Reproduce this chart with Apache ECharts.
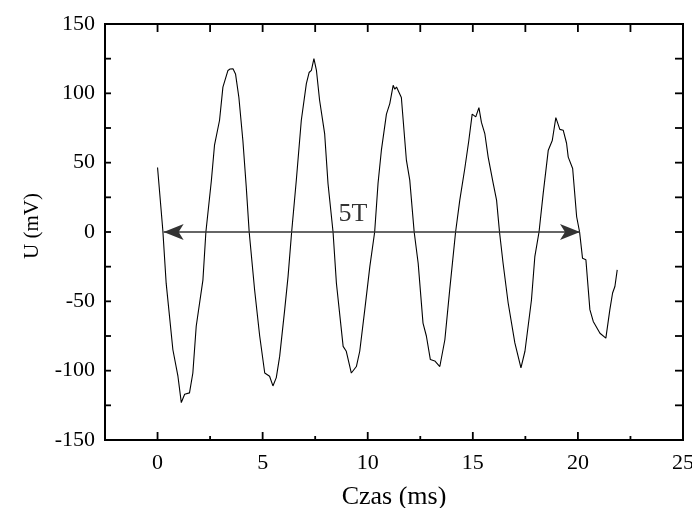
<!DOCTYPE html>
<html>
<head>
<meta charset="utf-8">
<script src="https://cdn.jsdelivr.net/npm/echarts@6/dist/echarts.min.js"></script>
<style>html,body{margin:0;padding:0;background:#fff}#c{width:692px;height:508px}</style>
</head>
<body>
<div id="c"></div>
<script>
// time (ms)
const timeMs = [0.0,0.25,0.41,0.73,0.97,1.13,1.29,1.52,1.68,1.84,2.16,2.3,2.56,2.71,2.95,3.11,3.35,3.45,3.59,3.71,3.87,4.06,4.22,4.36,4.62,4.86,5.1,5.33,5.49,5.65,5.81,6.05,6.21,6.38,6.6,6.84,7.08,7.21,7.32,7.44,7.56,7.71,7.95,8.11,8.35,8.51,8.83,8.98,9.22,9.46,9.62,9.86,10.1,10.33,10.49,10.65,10.89,11.05,11.21,11.29,11.37,11.6,11.84,12.0,12.21,12.4,12.63,12.79,12.98,13.19,13.43,13.67,13.9,14.18,14.38,14.62,14.81,14.97,15.14,15.29,15.41,15.57,15.73,15.97,16.13,16.27,16.44,16.68,17.0,17.29,17.48,17.79,17.95,18.15,18.35,18.59,18.78,18.95,19.14,19.3,19.46,19.54,19.75,19.94,20.08,20.22,20.38,20.57,20.73,21.05,21.33,21.52,21.65,21.76,21.87];
// voltage (mV)
const voltageMv = [46.5,1.4,-36.9,-84.9,-104,-123,-117,-116,-101.7,-68,-34.5,0,37,62.6,80.6,104.5,116.5,117.5,117.7,114,97,66,32.6,0,-42,-75,-101.7,-104,-111,-105,-89.7,-56,-32,0,37,80.6,107,115,116.5,125,116.5,95,71,35,0,-37,-82.5,-86,-101.7,-97,-86,-56,-25,0,35,59,85,92.6,105.8,103,104.5,97,51.8,37.4,0,-22.5,-65.7,-75,-92,-93,-97,-77.7,-41.7,0,23,46,66,85,83,89.7,79,71,54,35,23,0,-22.5,-51,-80,-98,-86,-49,-17.8,0,28,59,66,82.5,74,73.4,64,54,45.8,11,0,-19,-20,-56,-64.5,-73,-76.5,-56,-44,-39.3,-27.3];
// annotation
const arrowStart = 0.29, arrowEnd = 20.1, arrowLevel = 0;
const annotText = '5T', annotX = 9.3, annotY = 13;
// axes
const xMin = -2.5, xMax = 25;
const xMajorTicks = [0,5,10,15,20,25];
const xMinorTicks = [2.5,7.5,12.5,17.5,22.5];
const yMin = -150, yMax = 150;
const yTicks = [-125,-100,-75,-50,-25,0,25,50,75,100,125];

const FONT = 'Liberation Serif';
const chart = echarts.init(document.getElementById('c'));

function xTickRenderer(lenBottom, lenTop){
  return function(params, api){
    const b = api.coord([api.value(0), yMin]);
    const t = api.coord([api.value(0), yMax]);
    const st = {stroke:'#000', lineWidth:1.8};
    return {type:'group', children:[
      {type:'line', shape:{x1:b[0], y1:b[1], x2:b[0], y2:b[1]-lenBottom}, style:st},
      {type:'line', shape:{x1:t[0], y1:t[1], x2:t[0], y2:t[1]+lenTop}, style:st}
    ]};
  };
}
function yTickRenderer(lenLeft, lenRight){
  return function(params, api){
    const l = api.coord([xMin, api.value(1)]);
    const r = api.coord([xMax, api.value(1)]);
    const st = {stroke:'#000', lineWidth:1.8};
    return {type:'group', children:[
      {type:'line', shape:{x1:l[0], y1:l[1], x2:l[0]+lenLeft, y2:l[1]}, style:st},
      {type:'line', shape:{x1:r[0], y1:r[1], x2:r[0]-lenRight, y2:r[1]}, style:st}
    ]};
  };
}

chart.setOption({
  animation:false,
  backgroundColor:'#fff',
  grid:{left:105, right:9, top:24, bottom:68, outerBoundsMode:'none', containLabel:false,
        show:true, borderColor:'#000', borderWidth:2, backgroundColor:'transparent'},
  xAxis:{
    type:'value', position:'bottom', min:xMin, max:xMax, interval:2.5,
    axisLine:{show:false, onZero:false}, splitLine:{show:false},
    axisTick:{show:false},
    axisLabel:{show:true, color:'#000', fontFamily:FONT, fontSize:22, margin:12,
               formatter:v => xMajorTicks.indexOf(v) >= 0 ? String(v) : ''},
    name:'Czas (ms)', nameLocation:'middle', nameGap:44,
    nameTextStyle:{color:'#000', fontFamily:FONT, fontSize:26}
  },
  yAxis:{
    type:'value', position:'left', min:yMin, max:yMax, interval:50,
    axisLine:{show:false, onZero:false}, splitLine:{show:false},
    axisTick:{show:false},
    axisLabel:{show:true, color:'#000', fontFamily:FONT, fontSize:22, margin:10},
    name:'U (mV)', nameLocation:'middle', nameGap:62,
    nameTextStyle:{color:'#000', fontFamily:FONT, fontSize:21, padding:[0,0,0,12]}
  },
  series:[
    {type:'custom', silent:true, clip:false, data:xMajorTicks.map(v=>[v, yMin]), renderItem:xTickRenderer(8, 8)},
    {type:'custom', silent:true, clip:false, data:xMinorTicks.map(v=>[v, yMin]), renderItem:xTickRenderer(4, 8)},
    {type:'custom', silent:true, clip:false, data:yTicks.map(v=>[xMin, v]), renderItem:yTickRenderer(6, 8)},
    {
      type:'line',
      data: timeMs.map((t,i)=>[t, voltageMv[i]]),
      showSymbol:false, symbol:'none',
      lineStyle:{color:'#000', width:1.1},
      markLine:{
        silent:true, symbol:['arrow','arrow'], symbolSize:[12,20],
        label:{show:false},
        lineStyle:{color:'#333', width:1.5, type:'solid'},
        data:[[{coord:[arrowStart, arrowLevel]},{coord:[arrowEnd, arrowLevel]}]]
      }
    },
    {
      type:'scatter', symbolSize:0,
      data:[[annotX, annotY]],
      label:{show:true, position:'inside', formatter:annotText, color:'#000', fontFamily:FONT, fontSize:26}
    }
  ]
});
</script>
</body>
</html>
